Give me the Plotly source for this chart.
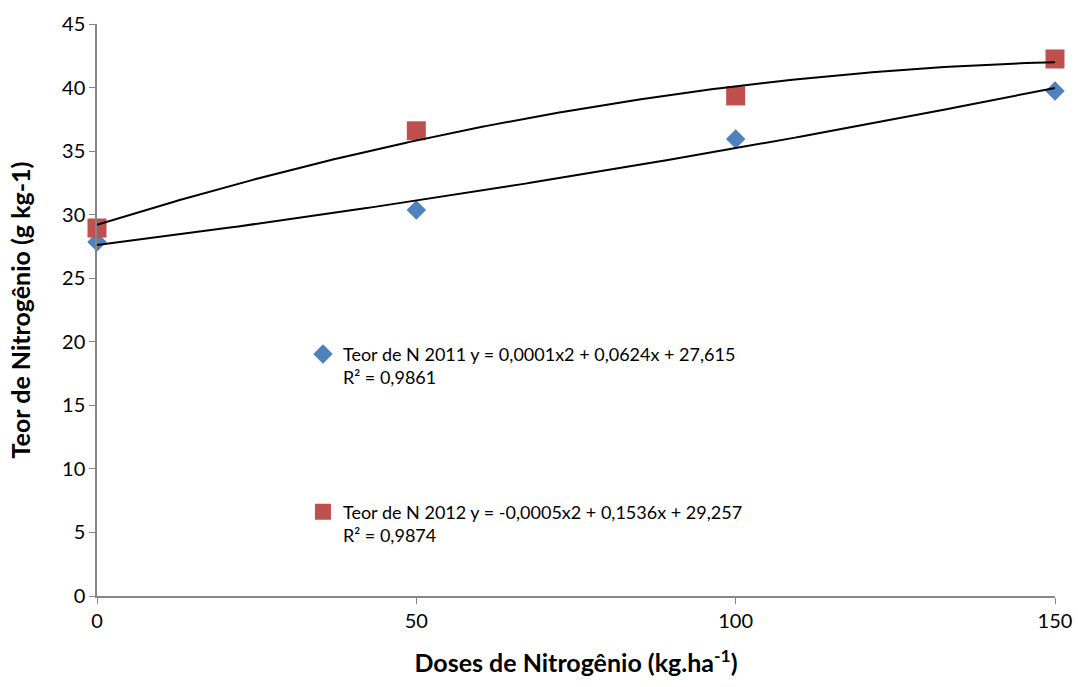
import numpy as np
import plotly.graph_objects as go

# Nitrogen doses (kg/ha) and leaf N content (g/kg) for two seasons
doses = [0, 50, 100, 150]
teor_2011 = [27.85, 30.37, 35.96, 39.73]
teor_2012 = [28.95, 36.6, 39.34, 42.25]

label_2011 = "Teor de N 2011 y = 0,0001x2 + 0,0624x + 27,615<br>R² = 0,9861"
label_2012 = "Teor de N 2012 y = -0,0005x2 + 0,1536x + 29,257<br>R² = 0,9874"

x_ticks = [0, 50, 100, 150]
y_ticks = [0, 5, 10, 15, 20, 25, 30, 35, 40, 45]

FONT = "Lato"
AXIS_GREY = "#868686"

fig = go.Figure()

fig.add_trace(go.Scatter(
    x=doses, y=teor_2011, mode="markers", name=label_2011, legendgroup="a",
    marker=dict(symbol="diamond", size=15, color="#4F81BD"), cliponaxis=False,
))
fig.add_trace(go.Scatter(
    x=doses, y=teor_2012, mode="markers", name=label_2012, legendgroup="b",
    marker=dict(symbol="square", size=19, color="#C0504D"), cliponaxis=False,
))

# Second-order polynomial trend lines fitted to each series, drawn over the markers
xs = np.linspace(min(doses), max(doses), 200)
for ys in (teor_2011, teor_2012):
    coef = np.polyfit(doses, ys, 2)
    fig.add_trace(go.Scatter(
        x=xs, y=np.polyval(coef, xs), mode="lines",
        line=dict(color="black", width=2), showlegend=False, hoverinfo="skip",
        cliponaxis=False,
    ))

fig.update_layout(
    width=1078, height=687,
    margin=dict(l=97, r=23, t=24, b=91),
    paper_bgcolor="white", plot_bgcolor="white",
    font=dict(family=FONT, size=20, color="black"),
    legend=dict(
        x=0.215, y=0.455, xanchor="left", yanchor="top",
        bgcolor="rgba(0,0,0,0)", tracegroupgap=108, valign="top",
        font=dict(family=FONT, size=18, color="black"),
        itemwidth=30,
    ),
    xaxis=dict(
        range=[0, 150], tickvals=x_ticks, ticks="outside", ticklen=6,
        tickcolor=AXIS_GREY, showline=True, linecolor=AXIS_GREY, linewidth=1.5,
        showgrid=False, zeroline=False, automargin=False,
        tickfont=dict(family=FONT, size=20),
        title=dict(text="<b>Doses de Nitrogênio (kg.ha<sup>-1</sup>)</b>",
                   font=dict(family=FONT, size=25), standoff=24),
    ),
    yaxis=dict(
        range=[0, 45], tickvals=y_ticks, ticks="outside", ticklen=6,
        tickcolor=AXIS_GREY, showline=True, linecolor=AXIS_GREY, linewidth=1.5,
        showgrid=False, zeroline=False, automargin=False,
        tickfont=dict(family=FONT, size=20),
        title=dict(text="<b>Teor de Nitrogênio (g kg-1)</b>",
                   font=dict(family=FONT, size=25), standoff=24),
    ),
)

fig.write_html("out.html")
